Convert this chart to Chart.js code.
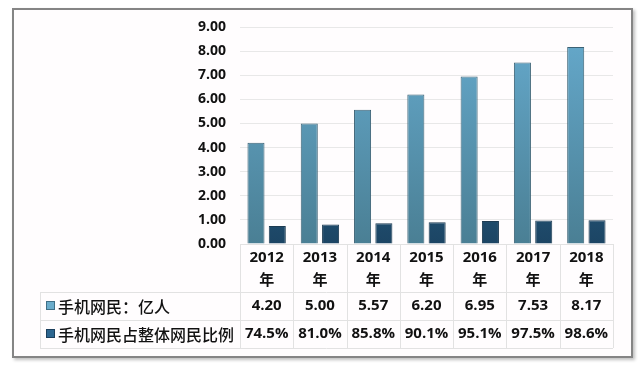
<!DOCTYPE html>
<html>
<head>
<meta charset="utf-8">
<script src="https://cdn.jsdelivr.net/npm/chart.js@4"></script>
<style>
  html, body { margin: 0; padding: 0; background: #fff; }
  #frame {
    position: absolute; left: 12px; top: 8px; width: 617px; height: 346px;
    border: 2px solid #858585; background: #fffdfe;
    box-shadow: 2px 2px 3px rgba(0,0,0,0.25);
  }
  #wrap { position: absolute; left: 0; top: 0; width: 640px; height: 365px; }
</style>
</head>
<body>
<div id="frame"></div>
<div id="wrap"><canvas id="chart"></canvas></div>
<script>
// data
const years = ["2012", "2013", "2014", "2015", "2016", "2017", "2018"];
const yearSuffix = "年";
const seriesNames = ["手机网民：亿人", "手机网民占整体网民比例"];
const users = [4.20, 5.00, 5.57, 6.20, 6.95, 7.53, 8.17];
const share = [0.745, 0.810, 0.858, 0.901, 0.951, 0.975, 0.986];

const numFont = "'Open Sans', 'DejaVu Sans', sans-serif";
const cjkFont = "'Noto Sans CJK SC', sans-serif";

function grad(ctx, top, bottom) {
  const area = ctx.chart.chartArea;
  if (!area) return top;
  const g = ctx.chart.ctx.createLinearGradient(0, area.top, 0, area.bottom);
  g.addColorStop(0, top);
  g.addColorStop(1, bottom);
  return g;
}

// draws the data table under the bars
const tablePlugin = {
  id: "table",
  afterDraw(chart) {
    const ctx = chart.ctx;
    const x = chart.scales.x;
    const area = chart.chartArea;
    const colW = (area.right - area.left) / years.length;
    const top = area.bottom;
    const r1 = top + 48, r2 = r1 + 28, r3 = r2 + 28;
    const tableLeft = 40;

    ctx.save();
    ctx.strokeStyle = "#e2e2e2";
    ctx.lineWidth = 1;
    ctx.beginPath();
    ctx.moveTo(area.left, top + 0.5); ctx.lineTo(area.right, top + 0.5);
    [r1, r2, r3].forEach(y => { ctx.moveTo(tableLeft, y + 0.5); ctx.lineTo(area.right, y + 0.5); });
    for (let i = 0; i <= years.length; i++) {
      const xx = Math.round(area.left + i * colW) + 0.5;
      ctx.moveTo(xx, top); ctx.lineTo(xx, r3);
    }
    ctx.moveTo(tableLeft + 0.5, r1); ctx.lineTo(tableLeft + 0.5, r3);
    ctx.stroke();

    ctx.fillStyle = "#111";
    ctx.textAlign = "center";
    ctx.textBaseline = "middle";
    years.forEach((yr, i) => {
      const cx = x.getPixelForValue(i);
      ctx.font = "bold 15px " + numFont;
      ctx.fillText(yr, cx, top + 14);
      ctx.font = "bold 15px " + cjkFont;
      ctx.fillText(yearSuffix, cx, top + 35);
      ctx.font = "bold 15px " + numFont;
      ctx.fillText(users[i].toFixed(2), cx, r1 + 14);
      ctx.fillText((share[i] * 100).toFixed(1) + "%", cx, r2 + 14);
    });

    // legend keys + names
    const keyColors = [["#6aaccb", "#3f6f86"], ["#2c6690", "#1b3f5c"]];
    [r1, r2].forEach((y, k) => {
      const cy = y + 14;
      ctx.fillStyle = keyColors[k][0];
      ctx.fillRect(46, cy - 5, 9, 9);
      ctx.strokeStyle = keyColors[k][1];
      ctx.strokeRect(46.5, cy - 4.5, 8, 8);
      ctx.fillStyle = "#111";
      ctx.textAlign = "left";
      ctx.font = "500 16px " + cjkFont;
      ctx.fillText(seriesNames[k], 58, cy + 1);
    });
    ctx.restore();
  }
};

new Chart(document.getElementById("chart"), {
  type: "bar",
  data: {
    labels: years,
    datasets: [
      {
        label: seriesNames[0],
        data: users,
        backgroundColor: ctx => grad(ctx, "#66aacd", "#4a7f94"),
        borderColor: "#3b6275",
        borderWidth: 1,
        categoryPercentage: 0.8,
        barPercentage: 0.8
      },
      {
        label: seriesNames[1],
        data: share,
        backgroundColor: ctx => grad(ctx, "#3479a6", "#1c4564"),
        borderColor: "#1d3b52",
        borderWidth: 1,
        categoryPercentage: 0.8,
        barPercentage: 0.8
      }
    ]
  },
  options: {
    responsive: true,
    maintainAspectRatio: false,
    animation: false,
    layout: { padding: { top: 27, right: 27, bottom: 121, left: 0 } },
    plugins: {
      legend: { display: false },
      tooltip: { enabled: false }
    },
    scales: {
      x: { display: false },
      y: {
        min: 0,
        max: 9,
        afterFit: s => { s.width = 240; },
        border: { display: false },
        grid: { color: "#e8e8e8", drawTicks: false },
        ticks: {
          stepSize: 1,
          padding: 14,
          color: "#111",
          font: { family: numFont, size: 14, weight: "bold" },
          callback: v => v.toFixed(2)
        }
      }
    }
  },
  plugins: [tablePlugin]
});
</script>
</body>
</html>
